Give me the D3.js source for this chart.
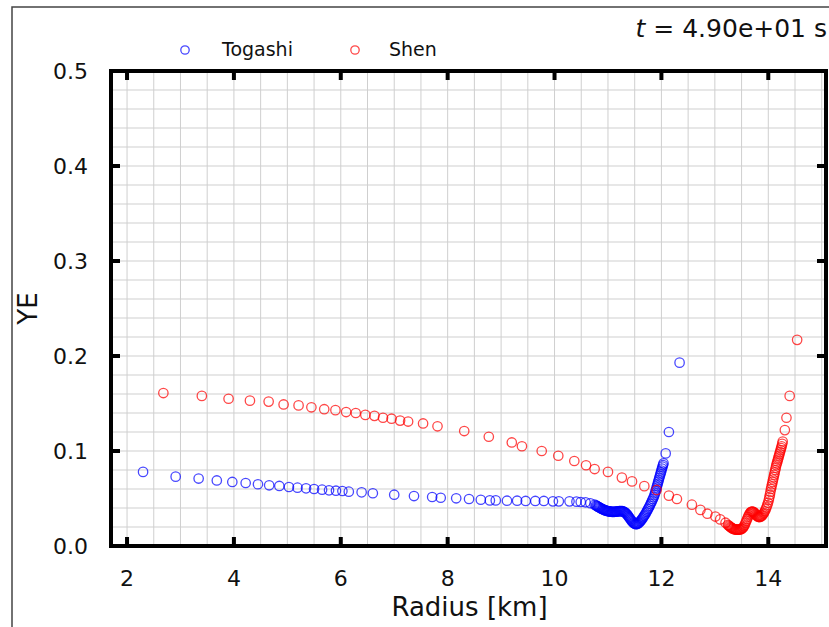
<!DOCTYPE html>
<html lang="en">
<head>
    <meta charset="UTF-8">
    <title>YE vs Radius</title>
    <script src="https://d3js.org/d3.v7.min.js"></script>
    <style>
        body {
            margin: 0;
            background: #fff;
            font-family: "DejaVu Sans", sans-serif;
        }
        .tick-label {
            font-size: 22px;
            fill: #111;
        }
        .axis-label {
            font-size: 26px;
            fill: #111;
        }
        .grid line {
            stroke: #cfcfcf;
            stroke-width: 1;
        }
    </style>
</head>
<body>
    <svg id="chart" width="829" height="627"></svg>

    <script>
        // Togashi (blue) radius [km] and YE
        const togashiR = [
            2.30, 2.91, 3.34, 3.68, 3.97, 4.22, 4.45, 4.66, 4.85, 5.03,
            5.19, 5.35, 5.50, 5.65, 5.78, 5.91, 6.03, 6.15, 6.39, 6.60,
            7.00, 7.37, 7.71, 7.87, 8.16, 8.40, 8.62, 8.79, 8.90, 9.11,
            9.30, 9.46, 9.64, 9.80, 9.97, 10.08, 10.28, 10.41, 10.49, 10.58,
            10.67, 10.75,
            10.775, 10.79, 10.805, 10.82, 10.835, 10.85, 10.865, 10.88, 10.895, 10.91,
            10.925, 10.94, 10.955, 10.97, 10.985, 11.00, 11.015, 11.03, 11.045, 11.06,
            11.075, 11.09, 11.105, 11.12, 11.135, 11.15, 11.165, 11.18, 11.195, 11.21,
            11.225, 11.24, 11.255, 11.27, 11.285, 11.30, 11.315, 11.33, 11.345, 11.36,
            11.375, 11.39, 11.405, 11.42, 11.435, 11.45, 11.465, 11.48, 11.495, 11.51,
            11.525, 11.54, 11.555, 11.57, 11.585, 11.60, 11.615, 11.63, 11.645, 11.66,
            11.675, 11.69, 11.705, 11.72, 11.735, 11.75, 11.765, 11.78, 11.795, 11.81,
            11.825, 11.84, 11.855, 11.87, 11.88, 11.89, 11.90, 11.91, 11.92, 11.93,
            11.94, 11.95, 11.96, 11.97, 11.98, 11.99, 12.00, 12.01, 12.02, 12.03,
            12.04,
            12.08, 12.14, 12.34
        ];
        const togashiYE = [
            0.078, 0.073, 0.071, 0.069, 0.0674, 0.0663, 0.065, 0.0639, 0.0632, 0.0621,
            0.0614, 0.0607, 0.0600, 0.0593, 0.0586, 0.0582, 0.0579, 0.0572, 0.0565, 0.0555,
            0.0540, 0.0526, 0.0516, 0.0508, 0.0502, 0.0495, 0.0487, 0.0480, 0.0480, 0.0477,
            0.0477, 0.0474, 0.0474, 0.0474, 0.0470, 0.0470, 0.0470, 0.0467, 0.0463, 0.0460,
            0.0450, 0.0435,
            0.0428, 0.0422, 0.0417, 0.0412, 0.0407, 0.0402, 0.0397, 0.0393, 0.0389, 0.0385,
            0.0381, 0.0377, 0.0374, 0.0371, 0.0369, 0.0367, 0.0365, 0.0364, 0.0362, 0.0361,
            0.0360, 0.0360, 0.0360, 0.0360, 0.0361, 0.0362, 0.0363, 0.0364, 0.0366, 0.0367,
            0.0368, 0.0368, 0.0368, 0.0367, 0.0364, 0.0360, 0.0355, 0.0348, 0.0340, 0.0330,
            0.0318, 0.0306, 0.0294, 0.0282, 0.0270, 0.0260, 0.0250, 0.0242, 0.0236, 0.0232,
            0.0230, 0.0231, 0.0235, 0.0241, 0.0248, 0.0257, 0.0267, 0.0278, 0.0290, 0.0302,
            0.0315, 0.0329, 0.0343, 0.0358, 0.0373, 0.0389, 0.0405, 0.0422, 0.0440, 0.0458,
            0.0476, 0.0495, 0.0514, 0.0535, 0.0555, 0.0575, 0.0595, 0.0615, 0.0635, 0.0655,
            0.0675, 0.0695, 0.0715, 0.0735, 0.0755, 0.0775, 0.0795, 0.0815, 0.0835, 0.0852,
            0.0870,
            0.0975, 0.120, 0.193
        ];

        // Shen (red) radius [km] and YE
        const shenR = [
            2.68, 3.40, 3.90, 4.30, 4.65, 4.93, 5.21, 5.45, 5.69, 5.90,
            6.10, 6.28, 6.46, 6.63, 6.79, 6.95, 7.11, 7.26, 7.54, 7.81,
            8.31, 8.77, 9.20, 9.39, 9.76, 10.07, 10.37, 10.59, 10.75, 11.00,
            11.26, 11.45, 11.68, 11.91, 12.14, 12.29, 12.57, 12.73, 12.86, 13.01,
            13.10, 13.20,
            13.245, 13.26, 13.275, 13.29, 13.305, 13.32, 13.335, 13.35, 13.365, 13.38,
            13.395, 13.41, 13.425, 13.44, 13.455, 13.47, 13.485, 13.50, 13.515, 13.53,
            13.545, 13.56, 13.575, 13.59, 13.605, 13.62, 13.635, 13.65, 13.665, 13.68,
            13.695, 13.71, 13.725, 13.74, 13.755, 13.77, 13.785, 13.80, 13.815, 13.83,
            13.845, 13.86, 13.875, 13.89, 13.905, 13.92, 13.935, 13.95, 13.965, 13.98,
            13.995, 14.01, 14.02, 14.03, 14.04, 14.05, 14.06, 14.07, 14.08, 14.09,
            14.10, 14.11, 14.12, 14.13, 14.14, 14.15, 14.16, 14.17, 14.18, 14.19,
            14.20, 14.21, 14.22, 14.23, 14.24, 14.25, 14.26, 14.27,
            14.31, 14.34, 14.40, 14.54
        ];
        const shenYE = [
            0.161, 0.158, 0.155, 0.153, 0.152, 0.149, 0.148, 0.146, 0.144, 0.143,
            0.141, 0.140, 0.138, 0.137, 0.135, 0.134, 0.132, 0.131, 0.129, 0.126,
            0.121, 0.115, 0.109, 0.105, 0.100, 0.095, 0.0895, 0.085, 0.081, 0.078,
            0.072, 0.068, 0.063, 0.059, 0.053, 0.0495, 0.0435, 0.038, 0.034, 0.031,
            0.028, 0.0245,
            0.0222, 0.0215, 0.0207, 0.0200, 0.0194, 0.0188, 0.0184, 0.0180, 0.0177, 0.0175,
            0.0173, 0.0172, 0.0171, 0.0172, 0.0173, 0.0174, 0.0177, 0.0180, 0.0186, 0.0195,
            0.0208, 0.0225, 0.0245, 0.0265, 0.0285, 0.0305, 0.0323, 0.0340, 0.0352, 0.0360,
            0.0363, 0.0362, 0.0357, 0.0350, 0.0340, 0.0330, 0.0320, 0.0312, 0.0307, 0.0305,
            0.0306, 0.0310, 0.0317, 0.0325, 0.0337, 0.0350, 0.0366, 0.0385, 0.0406, 0.0430,
            0.0456, 0.0485, 0.0512, 0.0540, 0.0570, 0.0600, 0.0625, 0.0650, 0.0675, 0.0700,
            0.0725, 0.0750, 0.0775, 0.0800, 0.0825, 0.0850, 0.0870, 0.0890, 0.0910, 0.0930,
            0.0950, 0.0970, 0.0990, 0.1010, 0.1030, 0.1050, 0.1075, 0.1100,
            0.122, 0.135, 0.158, 0.217
        ];

        const xTicks = [2, 4, 6, 8, 10, 12, 14];
        const yTicks = [0.0, 0.1, 0.2, 0.3, 0.4, 0.5];

        const plot = {left: 111, right: 826, top: 71, bottom: 546};

        const x = d3.scaleLinear().domain([1.70, 15.08]).range([plot.left, plot.right]);
        const y = d3.scaleLinear().domain([0, 0.5]).range([plot.bottom, plot.top]);

        const svg = d3.select("#chart");

        // outer figure frame
        svg.append("rect")
            .attr("x", 12).attr("y", 7)
            .attr("width", 900).attr("height", 700)
            .attr("fill", "none")
            .attr("stroke", "#444")
            .attr("stroke-width", 1.5);

        // grid: every 0.5 km and every 0.02
        const grid = svg.append("g").attr("class", "grid");
        grid.selectAll(".gx")
            .data(d3.range(4, 31).map(i => i / 2))
            .enter().append("line")
            .attr("x1", d => x(d)).attr("x2", d => x(d))
            .attr("y1", plot.top).attr("y2", plot.bottom);
        grid.selectAll(".gy")
            .data(d3.range(1, 25).map(i => i * 0.02))
            .enter().append("line")
            .attr("x1", plot.left).attr("x2", plot.right)
            .attr("y1", d => y(d)).attr("y2", d => y(d));

        // data
        const togashi = togashiR.map((r, i) => ({r: r, ye: togashiYE[i]}));
        const shen = shenR.map((r, i) => ({r: r, ye: shenYE[i]}));

        const markerR = 4.7;

        function drawSeries(data, color) {
            svg.append("g")
                .selectAll("circle")
                .data(data)
                .enter().append("circle")
                .attr("cx", d => x(d.r))
                .attr("cy", d => y(d.ye))
                .attr("r", markerR)
                .attr("fill", "none")
                .attr("stroke", color)
                .attr("stroke-opacity", 0.72)
                .attr("stroke-width", 1.3);
        }
        drawSeries(togashi, "#0000ff");
        drawSeries(shen, "#ff0000");

        // inward ticks on all four sides
        const tickLen = 9;
        xTicks.forEach(t => {
            svg.append("line").attr("x1", x(t)).attr("x2", x(t))
                .attr("y1", plot.bottom).attr("y2", plot.bottom - tickLen)
                .attr("stroke", "#000").attr("stroke-width", 4);
            svg.append("line").attr("x1", x(t)).attr("x2", x(t))
                .attr("y1", plot.top).attr("y2", plot.top + tickLen)
                .attr("stroke", "#000").attr("stroke-width", 4);
        });
        yTicks.forEach(t => {
            svg.append("line").attr("x1", plot.left).attr("x2", plot.left + tickLen)
                .attr("y1", y(t)).attr("y2", y(t))
                .attr("stroke", "#000").attr("stroke-width", 4);
            svg.append("line").attr("x1", plot.right).attr("x2", plot.right - tickLen)
                .attr("y1", y(t)).attr("y2", y(t))
                .attr("stroke", "#000").attr("stroke-width", 4);
        });

        // spines
        svg.append("rect")
            .attr("x", plot.left).attr("y", plot.top)
            .attr("width", plot.right - plot.left)
            .attr("height", plot.bottom - plot.top)
            .attr("fill", "none")
            .attr("stroke", "#000")
            .attr("stroke-width", 4);

        // tick labels
        svg.selectAll(".xl")
            .data(xTicks)
            .enter().append("text")
            .attr("class", "tick-label")
            .attr("x", d => x(d))
            .attr("y", 586)
            .attr("text-anchor", "middle")
            .text(d => d);
        svg.selectAll(".yl")
            .data(yTicks)
            .enter().append("text")
            .attr("class", "tick-label")
            .attr("x", 88)
            .attr("y", d => y(d) + 8)
            .attr("text-anchor", "end")
            .text(d => d3.format(".1f")(d));

        // axis labels
        svg.append("text")
            .attr("class", "axis-label")
            .attr("x", (plot.left + plot.right) / 2 + 1)
            .attr("y", 616)
            .attr("text-anchor", "middle")
            .text("Radius [km]");
        svg.append("text")
            .attr("class", "axis-label")
            .attr("transform", `translate(37,${(plot.top + plot.bottom) / 2}) rotate(-90)`)
            .attr("text-anchor", "middle")
            .text("YE");

        // time stamp
        const title = svg.append("text")
            .attr("x", 827)
            .attr("y", 37)
            .attr("text-anchor", "end")
            .style("font-size", "25px")
            .attr("fill", "#111");
        title.append("tspan").style("font-style", "italic").text("t");
        title.append("tspan").text(" = 4.90e+01 s");

        // legend
        const legend = [
            {name: "Togashi", color: "#0000ff", cx: 185, tx: 222},
            {name: "Shen", color: "#ff0000", cx: 355, tx: 389}
        ];
        legend.forEach(l => {
            svg.append("circle")
                .attr("cx", l.cx).attr("cy", 50).attr("r", 4.2)
                .attr("fill", "none")
                .attr("stroke", l.color)
                .attr("stroke-opacity", 0.72)
                .attr("stroke-width", 1.3);
            svg.append("text")
                .attr("x", l.tx).attr("y", 56)
                .style("font-size", "19px")
                .attr("fill", "#111")
                .text(l.name);
        });
    </script>
</body>
</html>
